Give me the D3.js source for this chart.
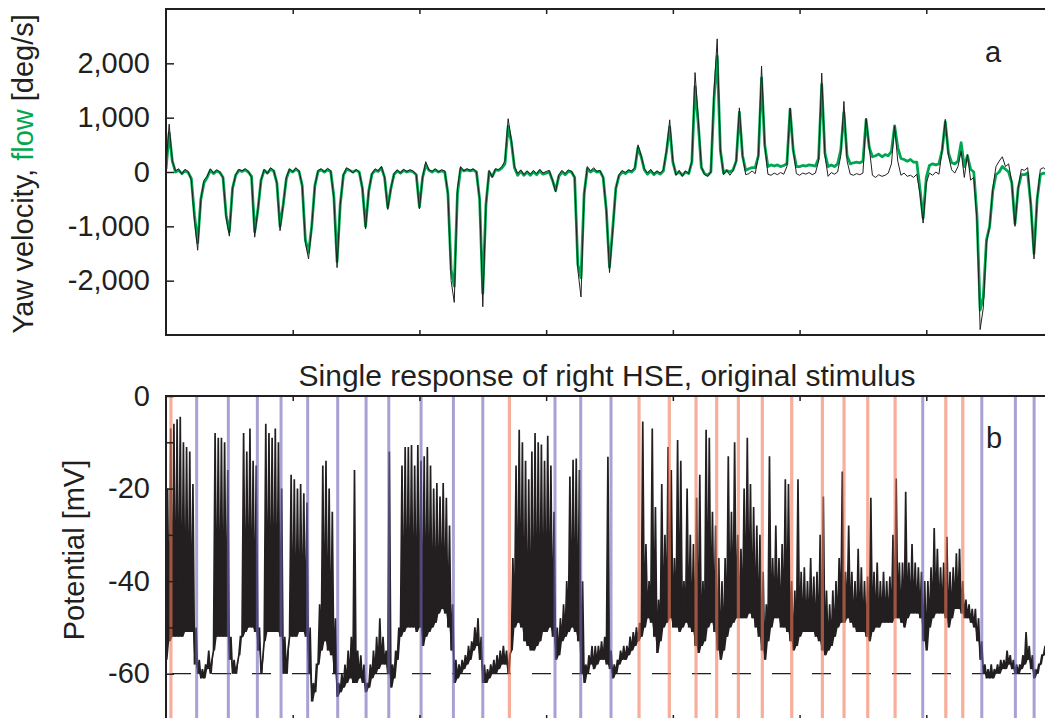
<!DOCTYPE html>
<html>
<head>
<meta charset="utf-8">
<script src="https://cdn.jsdelivr.net/npm/d3@7"></script>
<style>
  html, body { margin: 0; padding: 0; background: #fff; }
  svg { display: block; font-family: "Liberation Sans", Arial, Helvetica, sans-serif; }
</style>
</head>
<body>
<svg id="chart" width="1045" height="718"></svg>
<script>
// Sample interval of both recordings (s)
const dt = 0.025;

// Panel a: yaw velocity of the fly (black) and optic flow (green), deg/s
const yawVelocity = [
  100, 880, 200, 20, 60, -40, 50, 10, -150, -900,
  -1440, -500, -150, -80, 60, -20, 40, 0, -100, -850,
  -1180, -300, -50, 50, 20, 60, 10, -100, -1200, -700,
  -150, 50, -30, 80, 30, -200, -1080, -600, -100, 60,
  0, 80, 20, -250, -1300, -1600, -1000, -250, 30, 60,
  0, 70, 20, -500, -1760, -600, -50, 80, 40, -20,
  50, 0, -300, -1050, -350, -30, 60, 20, 100, -100,
  -690, -300, -30, 40, -20, 50, 10, 40, 20, -50,
  -680, -100, 190, 40, 10, 60, 0, 40, 20, -400,
  -2000, -2400, -300, 100, 20, 60, 30, 60, 0, -500,
  -2480, -600, 30, -100, 60, 40, 100, 200, 980, 600,
  100, -30, 40, -50, 20, -40, 30, -30, 50, -20,
  10, 30, -150, -370, -50, 30, -30, 40, 10, -100,
  -1800, -2300, -400, 100, 20, 80, 10, 30, -100, -700,
  -1850, -1100, -300, -50, 30, -10, 40, 20, 80, 500,
  300, 60, -20, 50, -30, 20, -20, 40, 400, 960,
  200, -60, 30, -80, 20, -30, 200, 1830, 1000, 100,
  -50, -80, 0, 1500, 2450, 400, -50, 30, -60, 20,
  200, 1180, 300, -50, -30, 20, -30, 300, 1950, 500,
  -40, -60, -20, -50, -10, -40, 100, 1180, 400, -30,
  -60, -20, -40, -10, -50, -20, 200, 1820, 300, -80,
  -10, -40, 0, 300, 1300, 200, -40, -60, -30, -50,
  -20, 990, 450, -60, -100, -50, -80, -60, -20, 150,
  850, 200, -60, -20, -80, -60, -100, -40, -400, -940,
  -200, -20, -60, 0, -40, 400, 970, 300, 40, -20,
  100, 380, -100, 320, -150, -100, -900, -2900, -2500, -1300,
  -1000, -300, 100, 200, 280, 100, 150, -200, -1000, -300,
  50, 30, 80, -600, -1600, -500, 50, 80, 20
];
const opticFlow = [
  50, 720, 200, 0, 30, -30, 20, -10, -120, -800,
  -1300, -500, -200, -100, 30, -30, 20, -10, -100, -800,
  -1100, -300, -60, 30, 10, 40, 0, -80, -1100, -700,
  -150, 30, -20, 50, 20, -200, -1000, -600, -120, 40,
  0, 50, 10, -250, -1250, -1480, -1000, -250, 10, 40,
  0, 40, 10, -450, -1650, -600, -60, 50, 30, 0,
  30, 0, -300, -1000, -350, -40, 30, 10, 80, -100,
  -650, -300, -40, 20, -20, 30, 0, 20, 0, -50,
  -640, -100, 130, 30, 0, 40, 0, 20, 0, -400,
  -1800, -2100, -400, 60, 20, 40, 20, 40, 0, -500,
  -2230, -600, 0, -80, 40, 30, 70, 150, 840, 560,
  80, -60, 10, -60, 0, -60, 0, -50, 20, -40,
  -20, 0, -150, -340, -80, 0, -50, 10, 0, -100,
  -1700, -1950, -400, 60, 0, 40, 0, 10, -100, -700,
  -1750, -1050, -300, -70, 0, -30, 20, 0, 60, 450,
  280, 40, -40, 20, -50, 0, -40, 20, 380, 830,
  180, -40, 0, -60, 0, -30, 180, 1570, 900, 80,
  -30, -60, 0, 1350, 2130, 400, -20, 30, 0, 40,
  200, 1100, 300, 30, 60, 80, 80, 300, 1730, 500,
  100, 130, 110, 130, 100, 120, 150, 1150, 400, 100,
  100, 120, 110, 130, 120, 110, 250, 1610, 350, 100,
  130, 100, 150, 400, 1090, 300, 150, 170, 180, 170,
  200, 960, 450, 280, 300, 330, 280, 320, 300, 380,
  850, 450, 250, 230, 200, 230, 180, 180, -300, -850,
  -100, 120, 150, 130, 150, 400, 920, 350, 170, 150,
  200, 540, 100, 300, 50, 0, -800, -2540, -2300, -1250,
  -1000, -350, -50, 0, 100, 50, 0, -200, -950, -300,
  -50, -50, -20, -600, -1500, -500, -50, -20, -30
];

// Panel b: membrane potential of the right HSE cell, lowest and highest value per sample bin (mV)
const potentialLow = [
  -57, -53, -52, -52, -52, -52, -51, -51, -51, -58,
  -60, -61, -61, -59, -60, -55, -52, -52, -52, -52,
  -57, -60, -60, -56, -52, -51, -50, -50, -51, -55,
  -60, -53, -51, -51, -51, -51, -52, -60, -60, -52,
  -52, -52, -51, -51, -52, -60, -66, -64, -58, -55,
  -53, -55, -56, -60, -65, -64, -63, -62, -61, -62,
  -62, -61, -62, -64, -63, -61, -60, -59, -58, -58,
  -60, -63, -61, -57, -52, -51, -50, -50, -50, -51,
  -50, -54, -52, -51, -50, -49, -47, -46, -47, -50,
  -55, -62, -61, -60, -59, -58, -57, -55, -54, -57,
  -62, -62, -61, -60, -60, -59, -58, -58, -60, -55,
  -50, -49, -50, -53, -54, -55, -55, -54, -53, -51,
  -51, -50, -52, -57, -56, -53, -52, -51, -50, -51,
  -53, -60, -62, -60, -58, -59, -58, -57, -57, -58,
  -59, -61, -60, -58, -57, -57, -56, -55, -54, -53,
  -52, -50, -48, -49, -52, -55.5, -53, -50, -49, -48,
  -50, -50, -51, -50, -49, -50, -51, -54, -55.5, -54,
  -53, -50, -49, -51, -55, -57, -55, -52, -50, -49,
  -48, -48, -48, -48, -47, -48, -50, -52, -55, -57,
  -53, -50, -48, -48, -50, -50, -51, -53, -55, -54,
  -52, -51, -51, -51, -51, -52, -53, -55, -56, -55,
  -54, -52, -50, -49, -49, -48, -49, -50, -51, -51,
  -51, -52, -53, -51, -50, -50, -49, -49, -49, -49,
  -48, -48, -49, -50, -48, -47, -47, -47, -48, -53,
  -55, -50, -48, -47, -47, -47, -48, -50, -48, -46,
  -46, -47, -48, -48, -49, -50, -53, -57, -60, -61,
  -61, -61, -60, -60, -59, -59, -58, -59, -60, -60,
  -59, -58, -57, -59, -61, -60, -58, -56, -55
];
const potentialHigh = [
  -20, -7, -6, -5, -4.5, -10, -11, -12, -19, -50,
  -57, -59, -58, -55, -57, -8, -9, -9, -10, -16,
  -52, -57, -58, -52, -8, -12, -7, -14, -15, -50,
  -57, -6, -8, -9, -7, -10, -20, -52, -55, -17,
  -18, -20, -19, -21, -23, -50, -62, -58, -45, -15,
  -14, -20, -25, -48, -62, -60, -58, -55, -52, -16,
  -55, -56, -58, -62, -58, -55, -52, -48, -52, -55,
  -12, -58, -55, -50, -15, -11, -11, -10.6, -15, -10.6,
  -14, -13, -11, -15, -20, -18.8, -21.7, -18.8, -22, -28,
  -45, -57, -58, -57, -56, -54, -53, -50, -48, -52,
  -58, -59, -58, -57, -56, -55, -54, -55, -56, -35,
  -15, -7.3, -10, -14, -18, -12, -8, -10, -10.5, -14,
  -8.6, -15, -25, -50, -48, -45, -40, -17.4, -13.8, -13.5,
  -16, -40, -58, -56, -54, -54, -54, -53, -52, -13.1,
  -55, -58, -57, -55, -54, -54, -52, -51, -50, -49,
  -5.5, -32, -40, -7, -24, -44, -19, -30, -11, -16,
  -35, -9.5, -14, -40, -20, -30, -32, -22, -17, -40,
  -7.3, -9, -25, -28, -35, -40, -35, -13, -25, -10,
  -30, -33, -20, -9, -19, -24, -28, -30, -38, -45,
  -13, -35, -28, -35, -32, -18, -19, -40, -42, -18,
  -38, -37, -40, -35, -39, -38, -30, -21.7, -42, -45,
  -42, -40, -35, -16.3, -38, -28, -38, -40, -33, -37,
  -40, -39, -22, -38, -36, -40, -38, -40, -39, -30,
  -17.8, -36, -36, -20.7, -36, -32, -36, -37, -38, -40,
  -40, -37, -28.5, -33, -37, -36, -30.4, -38, -37, -34,
  -33, -40, -44, -45, -46, -46, -48, -53, -58, -59,
  -58, -59, -58, -57, -57, -55, -56, -57, -58, -58,
  -56, -51, -54, -56, -59, -58, -56, -54, -53
];

// Saccade onsets (s): rightward in red, leftward in blue
const saccadesRed = [0.039, 2.710, 3.733, 3.972, 4.183, 4.346, 4.517, 4.706, 4.938, 5.180, 5.351, 5.538, 5.754, 6.154, 6.288];
const saccadesBlue = [0.242, 0.492, 0.721, 0.908, 1.118, 1.355, 1.579, 1.758, 2.013, 2.268, 2.500, 3.070, 3.273, 3.512, 5.972, 6.438, 6.703, 6.851];

// Axis ticks
const timeTicks = [1, 2, 3, 4, 5, 6];
const yawTicks = [-2000, -1000, 0, 1000, 2000];
const yawTickLabels = ["-2,000", "-1,000", "0", "1,000", "2,000"];
const potentialTicks = [-70, -60, -50, -40, -30, -20, -10, 0];
const potentialLabelTicks = [-60, -40, -20, 0];
const restingPotential = -60;

const ink = "#231f20";
const green = "#00a651";
const fontSize = 29;
const titleSize = 30;

const svg = d3.select("#chart");

const x = d3.scaleLinear().domain([0, 7]).range([166, 1053]);
const yTop = d3.scaleLinear().domain([-3000, 3000]).range([335, 9]);
const yBot = d3.scaleLinear().domain([-70, 0]).range([720, 396]);

const tOf = i => i * dt;

function styleAxis(g) {
  g.select(".domain").remove();
  g.selectAll(".tick line").attr("stroke", ink).attr("stroke-width", 1.5);
  g.selectAll(".tick text").attr("fill", ink).style("font-size", fontSize + "px")
    .style("font-family", "'Liberation Sans', Arial, Helvetica, sans-serif");
}

// ---------- panel a ----------
const panelA = svg.append("g");
const [tL, tR] = x.range();
const [tB, tT] = yTop.range();

panelA.append("clipPath").attr("id", "clipTop").append("rect")
  .attr("x", tL).attr("y", tT).attr("width", tR - tL).attr("height", tB - tT);

const lineTop = vals => d3.line()
  .x((d, i) => x(tOf(i)))
  .y(d => yTop(d))(vals);

const plotTop = panelA.append("g").attr("clip-path", "url(#clipTop)");
plotTop.append("path").attr("d", lineTop(opticFlow))
  .attr("fill", "none").attr("stroke", green).attr("stroke-width", 2.8)
  .attr("stroke-linejoin", "round");
plotTop.append("path").attr("d", lineTop(yawVelocity))
  .attr("fill", "none").attr("stroke", ink).attr("stroke-width", 1)
  .attr("stroke-linejoin", "round");

panelA.append("g").attr("transform", `translate(${tL},0)`)
  .call(d3.axisLeft(yTop).tickValues(yawTicks).tickSize(-8).tickPadding(16)
    .tickFormat((d, i) => yawTickLabels[i]))
  .call(styleAxis);
panelA.append("g").attr("transform", `translate(${tR},0)`)
  .call(d3.axisRight(yTop).tickValues(yawTicks).tickSize(-8).tickFormat(""))
  .call(styleAxis);
panelA.append("g").attr("transform", `translate(0,${tB})`)
  .call(d3.axisBottom(x).tickValues(timeTicks).tickSize(-5).tickFormat(""))
  .call(styleAxis);
panelA.append("g").attr("transform", `translate(0,${tT})`)
  .call(d3.axisTop(x).tickValues(timeTicks).tickSize(-5).tickFormat(""))
  .call(styleAxis);

panelA.append("rect").attr("x", tL).attr("y", tT).attr("width", tR - tL).attr("height", tB - tT)
  .attr("fill", "none").attr("stroke", ink).attr("stroke-width", 2);

const yawLabel = panelA.append("text")
  .attr("transform", `translate(33,${(tT + tB) / 2 + 2}) rotate(-90)`)
  .attr("text-anchor", "middle").attr("fill", ink).style("font-size", fontSize + "px");
yawLabel.append("tspan").text("Yaw velocity, ");
yawLabel.append("tspan").attr("fill", green).text("flow");
yawLabel.append("tspan").text(" [deg/s]");

panelA.append("text").attr("x", 993).attr("y", 62).attr("text-anchor", "middle")
  .attr("fill", ink).style("font-size", fontSize + "px").text("a");

// ---------- panel b ----------
const panelB = svg.append("g");
const [bB, bT] = yBot.range();

panelB.append("clipPath").attr("id", "clipBot").append("rect")
  .attr("x", tL).attr("y", bT).attr("width", tR - tL).attr("height", bB - bT);
const plotBot = panelB.append("g").attr("clip-path", "url(#clipBot)");

// resting level
plotBot.append("line")
  .attr("x1", tL).attr("x2", tR)
  .attr("y1", yBot(restingPotential)).attr("y2", yBot(restingPotential))
  .attr("stroke", ink).attr("stroke-width", 1.2)
  .attr("stroke-dasharray", "19 21").attr("stroke-dashoffset", 34);

// membrane potential: each bin traced from its lowest to its highest value,
// the spike body between them filled
const tracePts = [];
potentialLow.forEach((lo, i) => {
  tracePts.push({ t: tOf(i), v: lo, base: lo });
  tracePts.push({ t: tOf(i) + dt / 2, v: potentialHigh[i], base: lo });
});
plotBot.append("path")
  .attr("d", d3.area().x(d => x(d.t)).y0(d => yBot(d.base)).y1(d => yBot(d.v))(tracePts))
  .attr("fill", ink).attr("stroke", "none");
plotBot.append("path")
  .attr("d", d3.line().x(d => x(d.t)).y(d => yBot(d.v))(tracePts))
  .attr("fill", "none").attr("stroke", ink).attr("stroke-width", 1.7)
  .attr("stroke-linejoin", "miter").attr("stroke-miterlimit", 2);

// saccade markers
plotBot.selectAll("line.red").data(saccadesRed).join("line").attr("class", "red")
  .attr("x1", d => x(d)).attr("x2", d => x(d)).attr("y1", bT).attr("y2", bB)
  .attr("stroke", "rgb(242,120,86)").attr("stroke-opacity", 0.6).attr("stroke-width", 3.2);
plotBot.selectAll("line.blue").data(saccadesBlue).join("line").attr("class", "blue")
  .attr("x1", d => x(d)).attr("x2", d => x(d)).attr("y1", bT).attr("y2", bB)
  .attr("stroke", "rgb(108,100,182)").attr("stroke-opacity", 0.6).attr("stroke-width", 3);

panelB.append("g").attr("transform", `translate(${tL},0)`)
  .call(d3.axisLeft(yBot).tickValues(potentialTicks).tickSize(-8).tickPadding(16)
    .tickFormat(d => potentialLabelTicks.includes(d) ? String(d) : ""))
  .call(styleAxis);
panelB.append("g").attr("transform", `translate(${tR},0)`)
  .call(d3.axisRight(yBot).tickValues(potentialTicks).tickSize(-8).tickFormat(""))
  .call(styleAxis);
panelB.append("g").attr("transform", `translate(0,${bT})`)
  .call(d3.axisTop(x).tickValues(timeTicks).tickSize(-5).tickFormat(""))
  .call(styleAxis);
panelB.append("g").attr("transform", `translate(0,${bB})`)
  .call(d3.axisBottom(x).tickValues(timeTicks).tickSize(-5).tickFormat(""))
  .call(styleAxis);

panelB.append("rect").attr("x", tL).attr("y", bT).attr("width", tR - tL).attr("height", bB - bT)
  .attr("fill", "none").attr("stroke", ink).attr("stroke-width", 2);

panelB.append("text")
  .attr("transform", `translate(84,${(bT + 704) / 2}) rotate(-90)`)
  .attr("text-anchor", "middle").attr("fill", ink).style("font-size", fontSize + "px")
  .text("Potential [mV]");

panelB.append("text").attr("x", 607).attr("y", 386).attr("text-anchor", "middle")
  .attr("fill", ink).style("font-size", titleSize + "px")
  .text("Single response of right HSE, original stimulus");

panelB.append("text").attr("x", 994).attr("y", 448).attr("text-anchor", "middle")
  .attr("fill", ink).style("font-size", fontSize + "px").text("b");
</script>
</body>
</html>
